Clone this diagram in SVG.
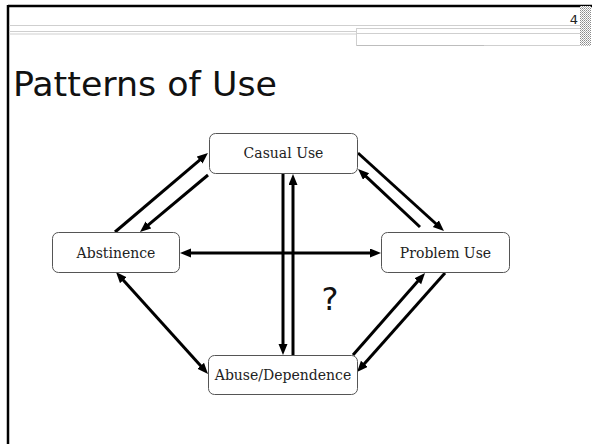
<svg xmlns="http://www.w3.org/2000/svg" width="592" height="444" viewBox="0 0 592 444">
  <style>
    .rule { stroke: #cfcfcf; stroke-width: 1; fill: none; }
    .node rect { fill: #ffffff; stroke: #555555; stroke-width: 1; }
    .node text { font-family: "DejaVu Serif", "Liberation Serif", serif; font-size: 14px; fill: #222222; text-anchor: middle; }
    .conn line { stroke: #000000; stroke-width: 3; }
    .one { marker-end: url(#head); }
    .both { marker-start: url(#head); marker-end: url(#head); }
  </style>
  <defs>
    <marker id="head" markerUnits="userSpaceOnUse" markerWidth="12" markerHeight="10" refX="2" refY="4.5" orient="auto-start-reverse">
      <path d="M0,0 L11,4.5 L0,9 z" fill="#000000"/>
    </marker>
    <pattern id="hatch" width="2" height="2" patternUnits="userSpaceOnUse">
      <rect width="2" height="2" fill="#ffffff"/>
      <rect width="1" height="1" fill="#8a8a8a"/>
      <rect x="1" y="1" width="1" height="1" fill="#b0b0b0"/>
    </pattern>
  </defs>

  <!-- page frame and header rules -->
  <g id="frame">
    <rect x="0" y="0" width="592" height="444" fill="#ffffff"/>
    <line x1="8" y1="6" x2="592" y2="6" stroke="#000000" stroke-width="2.5"/>
    <line x1="8" y1="5" x2="8" y2="444" stroke="#000000" stroke-width="2.5"/>
    <line class="rule" x1="9.5" y1="25.5" x2="580" y2="25.5"/>
    <line class="rule" x1="9.5" y1="31.5" x2="356" y2="31.5"/>
    <line class="rule" x1="9.5" y1="34" x2="356" y2="34"/>
    <rect class="rule" x="356.5" y="28.5" width="224" height="17"/>
    <line class="rule" x1="356.5" y1="33.5" x2="580" y2="33.5"/>
    <line x1="357" y1="45.5" x2="484" y2="45.5" stroke="#bdbdbd" stroke-width="1"/>
    <rect x="580" y="6" width="11" height="40" fill="url(#hatch)"/>
    <text x="578" y="24" font-family="DejaVu Sans, sans-serif" font-size="13" fill="#222222" text-anchor="end">4</text>
  </g>

  <text id="title" x="13" y="96" font-family="DejaVu Sans, sans-serif" font-size="34" font-stretch="condensed" fill="#111111" textLength="264" lengthAdjust="spacingAndGlyphs">Patterns of Use</text>

  <!-- connectors -->
  <g id="connectors" class="conn">
    <line class="one" x1="115" y1="232" x2="201.1" y2="158.8"/>
    <line class="one" x1="208" y1="175" x2="146.9" y2="226.2"/>
    <line class="both" x1="189" y1="253" x2="372" y2="253"/>
    <line class="one" x1="283" y1="173" x2="283" y2="346"/>
    <line class="one" x1="293" y1="355" x2="293" y2="183"/>
    <line class="one" x1="358" y1="153" x2="437.3" y2="225"/>
    <line class="one" x1="420" y1="227" x2="364.6" y2="175.1"/>
    <line class="both" x1="122" y1="278.7" x2="202" y2="367.3"/>
    <line class="one" x1="353" y1="355" x2="419.1" y2="279.8"/>
    <line class="one" x1="445" y1="273" x2="363" y2="365.3"/>
  </g>

  <!-- nodes -->
  <g id="casual-use" class="node">
    <rect x="209.5" y="133.5" width="148" height="40" rx="6"/>
    <text x="283.5" y="158">Casual Use</text>
  </g>
  <g id="abstinence" class="node">
    <rect x="52.5" y="232.5" width="127" height="40" rx="6"/>
    <text x="116" y="258">Abstinence</text>
  </g>
  <g id="problem-use" class="node">
    <rect x="381.5" y="232.5" width="128" height="40" rx="6"/>
    <text x="445.5" y="258">Problem Use</text>
  </g>
  <g id="abuse-dependence" class="node">
    <rect x="208.5" y="355.5" width="149" height="39" rx="6"/>
    <text x="283" y="380">Abuse/Dependence</text>
  </g>

  <text id="question" x="330" y="310" font-family="DejaVu Sans, sans-serif" font-size="32" fill="#111111" text-anchor="middle">?</text>
</svg>
